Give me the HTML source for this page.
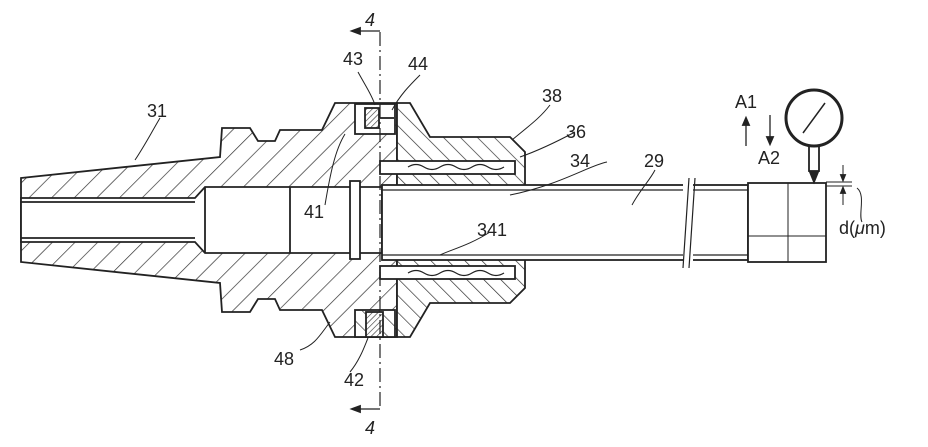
<!DOCTYPE html>
<html><head><meta charset="utf-8"><style>
html,body{margin:0;padding:0;background:#fff;}
svg{display:block;}
text{font-family:"Liberation Sans",sans-serif;fill:#222;font-size:18px;}
</style></head><body>
<svg width="928" height="447" viewBox="0 0 928 447" xmlns="http://www.w3.org/2000/svg">
<defs>
<pattern id="h1" patternUnits="userSpaceOnUse" width="16" height="16" patternTransform="rotate(45)">
<rect width="16" height="16" fill="#fff"/><line x1="0" y1="0" x2="0" y2="16" stroke="#333" stroke-width="1.4"/></pattern>
<pattern id="h2" patternUnits="userSpaceOnUse" width="12" height="12" patternTransform="rotate(-45)">
<rect width="12" height="12" fill="#fff"/><line x1="0" y1="0" x2="0" y2="12" stroke="#333" stroke-width="1.4"/></pattern>
<pattern id="h3" patternUnits="userSpaceOnUse" width="4" height="4" patternTransform="rotate(45)">
<rect width="4" height="4" fill="#fff"/><line x1="0" y1="0" x2="0" y2="4" stroke="#333" stroke-width="1.2"/></pattern>
</defs>
<g stroke="#222" stroke-width="1.8" fill="none">
<path fill="url(#h1)" d="M21,178 L220,157 L222,128 L250,128 L258,141 L275,141 L280,130 L322,130 L335,103 L397,103 L397,337 L335,337 L322,310 L280,310 L275,299 L258,299 L250,312 L222,312 L220,283 L21,262 Z"/>
<path fill="url(#h2)" d="M397,103 L410,103 L430,137 L510,137 L525,152 L525,288 L510,303 L430,303 L410,337 L397,337 Z"/>
<path fill="#fff" d="M21,198 L195,198 L205,187 L525,187 L525,253 L205,253 L195,242 L21,242 Z"/>
<line x1="21" y1="202" x2="195" y2="202"/><line x1="21" y1="238" x2="195" y2="238"/>
<line x1="205" y1="187" x2="205" y2="253"/>
<line x1="290" y1="187" x2="290" y2="253"/>
<rect x="350" y="181" width="10" height="78" fill="#fff"/>
<line x1="382" y1="187" x2="382" y2="253"/>
<rect x="380" y="161" width="135" height="13" fill="#fff"/>
<rect x="380" y="266" width="135" height="13" fill="#fff"/>
<path d="M408,167 q8,-5 16,0 q8,5 16,0 q8,-5 16,0 q8,5 16,0 q8,-5 16,0 q8,5 16,0" stroke-width="1.2"/>
<path d="M408,273 q8,-5 16,0 q8,5 16,0 q8,-5 16,0 q8,5 16,0 q8,-5 16,0 q8,5 16,0" stroke-width="1.2"/>
<rect x="355" y="104" width="40" height="30" fill="#fff"/>
<rect x="365" y="108" width="14" height="20" fill="url(#h3)"/>
<line x1="380" y1="118" x2="394" y2="118"/>
<rect x="355" y="310" width="40" height="27" fill="url(#h2)"/>
<rect x="366" y="312" width="17" height="25" fill="url(#h3)"/>
<rect x="382" y="185" width="366" height="75" fill="#fff"/>
<line x1="382" y1="190" x2="748" y2="190" stroke-width="1.2"/>
<line x1="382" y1="255" x2="748" y2="255" stroke-width="1.2"/>
<rect x="683" y="180" width="10" height="85" fill="#fff" stroke="none"/>
<path d="M689,178 L683,268 M695,178 L689,268" stroke-width="1.2"/>
<rect x="748" y="183" width="78" height="79" fill="#fff"/>
<line x1="788" y1="183" x2="788" y2="262" stroke-width="1"/>
<line x1="748" y1="236" x2="826" y2="236" stroke-width="1"/>
<circle cx="814" cy="118" r="28" stroke-width="3" fill="#fff"/>
<line x1="803" y1="133" x2="825" y2="103" stroke-width="1.5"/>
<rect x="809" y="146" width="10" height="25"/>
<path d="M810,172 L818,172 L814,182 Z" fill="#222"/>
<line x1="826" y1="182" x2="852" y2="182" stroke-width="1"/>
<line x1="826" y1="186" x2="852" y2="186" stroke-width="1"/>
<line x1="843" y1="165" x2="843" y2="180" stroke-width="1"/>
<line x1="843" y1="188" x2="843" y2="205" stroke-width="1"/>
<path d="M843,180 l-2,-5 l4,0 z M843,188 l-2,5 l4,0z" fill="#222"/>
<path d="M857,188 C866,195 858,215 862,222" stroke-width="1"/>
<line x1="746" y1="124" x2="746" y2="146" stroke-width="1.3"/>
<path d="M746,118 l-3,7 l6,0z" fill="#222"/>
<line x1="770" y1="115" x2="770" y2="138" stroke-width="1.3"/>
<path d="M770,144 l-3,-7 l6,0z" fill="#222"/>
<line x1="380" y1="32" x2="380" y2="410" stroke-width="1.2" stroke-dasharray="14,4,2,4"/>
<line x1="352" y1="31" x2="380" y2="31" stroke-width="1.2"/>
<path d="M352,31 l8,-3 l0,6z" fill="#222"/>
<line x1="352" y1="409" x2="380" y2="409" stroke-width="1.2"/>
<path d="M352,409 l8,-3 l0,6z" fill="#222"/>
<path d="M160,118 C150,135 145,145 135,160" stroke-width="1"/>
<path d="M358,72 C365,85 372,95 375,105" stroke-width="1"/>
<path d="M420,75 C410,85 400,95 392,110" stroke-width="1"/>
<path d="M550,105 C540,118 530,125 512,140" stroke-width="1"/>
<path d="M575,132 C560,140 540,150 520,157" stroke-width="1"/>
<path d="M607,162 C590,165 560,185 510,195" stroke-width="1"/>
<path d="M655,170 C650,180 640,190 632,205" stroke-width="1"/>
<path d="M325,205 C330,175 335,150 345,134" stroke-width="1"/>
<path d="M490,232 C470,245 450,250 440,255" stroke-width="1"/>
<path d="M300,350 C315,345 320,335 330,322" stroke-width="1"/>
<path d="M350,372 C360,360 365,345 368,338" stroke-width="1"/>
</g>
<text x="365" y="26" font-size="21" font-style="italic">4</text>
<text x="365" y="434" font-size="21" font-style="italic">4</text>
<text x="147" y="117">31</text>
<text x="343" y="65">43</text>
<text x="408" y="70">44</text>
<text x="542" y="102">38</text>
<text x="566" y="138">36</text>
<text x="570" y="167">34</text>
<text x="644" y="167">29</text>
<text x="735" y="108">A1</text>
<text x="758" y="164">A2</text>
<text x="839" y="234">d(<tspan font-style="italic">μ</tspan>m)</text>
<text x="304" y="218">41</text>
<text x="477" y="236">341</text>
<text x="274" y="365">48</text>
<text x="344" y="386">42</text>
</svg>
</body></html>
